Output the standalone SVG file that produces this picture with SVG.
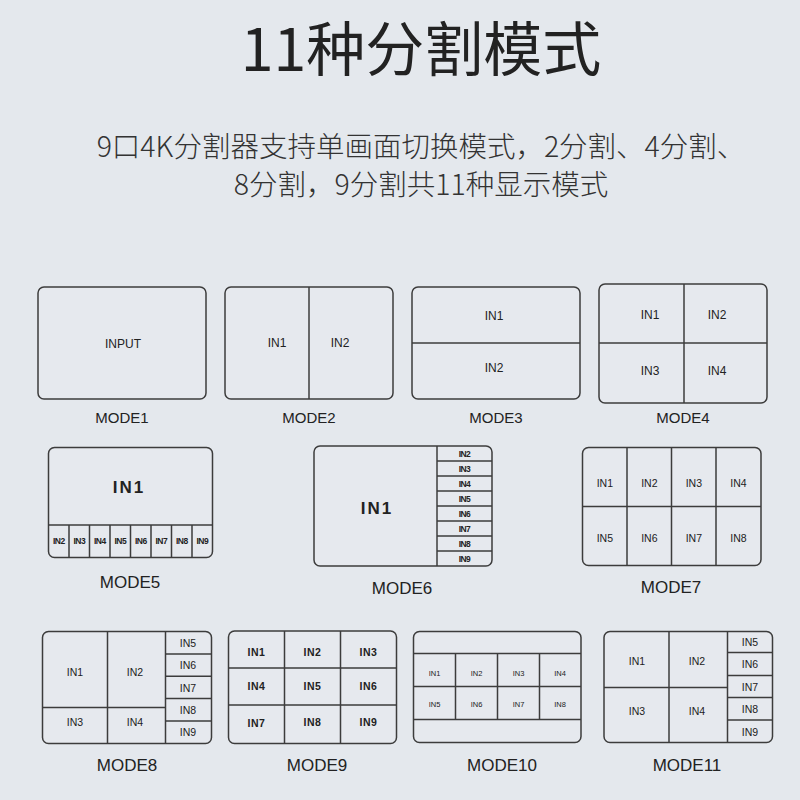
<svg xmlns="http://www.w3.org/2000/svg" width="800" height="800" viewBox="0 0 800 800">
<style>
.bg{fill:#e4e8ed}
.box{fill:#e6e9ee;stroke:#3c3c3c;stroke-width:1.5}
.ln{stroke:#3c3c3c;stroke-width:1.5;fill:none}
.t{font-family:"Liberation Sans",Arial,sans-serif;fill:#222;text-anchor:middle;dominant-baseline:central}
.m1{font-size:15px}
.m2{font-size:17px}
.s{font-size:12px}
.big{font-size:17px;font-weight:bold;letter-spacing:2px}
.xs{font-size:8.5px;font-weight:bold;letter-spacing:-0.6px}
.sm{font-size:10.5px}
.tiny{font-size:7.5px}
.cjk{font-family:"Noto Sans CJK SC",sans-serif;text-anchor:middle}
</style>
<rect class="bg" x="0" y="0" width="800" height="800"/>
<g id="title">
<text class="cjk" x="421" y="71" font-size="59" fill="#222">11种分割模式</text>
</g>
<g id="subtitle">
<text class="cjk" x="421" y="157" font-size="28.5" fill="#333" font-weight="300">9口4K分割器支持单画面切换模式，2分割、4分割、</text>
<text class="cjk" x="421" y="195" font-size="28.5" fill="#333" font-weight="300">8分割，9分割共11种显示模式</text>
</g>
<g id="mode1">
<rect class="box" x="38" y="287" width="168" height="112" rx="6"/>
<text class="t s" x="123" y="344">INPUT</text>
<text class="t m1" x="122" y="417">MODE1</text>
</g>
<g id="mode2">
<rect class="box" x="225" y="287" width="168" height="112" rx="6"/>
<line class="ln" x1="309" y1="287" x2="309" y2="399"/>
<text class="t s" x="277" y="343">IN1</text>
<text class="t s" x="340" y="343">IN2</text>
<text class="t m1" x="309" y="417">MODE2</text>
</g>
<g id="mode3">
<rect class="box" x="412" y="287" width="168" height="112" rx="6"/>
<line class="ln" x1="412" y1="343" x2="580" y2="343"/>
<text class="t s" x="494" y="316">IN1</text>
<text class="t s" x="494" y="368">IN2</text>
<text class="t m1" x="496" y="417">MODE3</text>
</g>
<g id="mode4">
<rect class="box" x="599" y="284" width="168" height="119" rx="6"/>
<line class="ln" x1="684" y1="284" x2="684" y2="403"/>
<line class="ln" x1="599" y1="343" x2="767" y2="343"/>
<text class="t s" x="650" y="315">IN1</text>
<text class="t s" x="717" y="315">IN2</text>
<text class="t s" x="650" y="371">IN3</text>
<text class="t s" x="717" y="371">IN4</text>
<text class="t m1" x="683" y="417">MODE4</text>
</g>
<g id="mode5">
<rect class="box" x="48.5" y="447.5" width="164" height="110" rx="6"/>
<line class="ln" x1="48.5" y1="525" x2="212.5" y2="525"/>
<path class="ln" d="M69 525V557.5M89.5 525V557.5M110 525V557.5M130.5 525V557.5M151 525V557.5M171.5 525V557.5M192 525V557.5"/>
<text class="t big" x="129" y="487">IN1</text>
<text class="t xs" x="58.8" y="541">IN2</text>
<text class="t xs" x="79.3" y="541">IN3</text>
<text class="t xs" x="99.8" y="541">IN4</text>
<text class="t xs" x="120.3" y="541">IN5</text>
<text class="t xs" x="140.8" y="541">IN6</text>
<text class="t xs" x="161.3" y="541">IN7</text>
<text class="t xs" x="181.8" y="541">IN8</text>
<text class="t xs" x="202.3" y="541">IN9</text>
<text class="t m2" x="130" y="582">MODE5</text>
</g>
<g id="mode6">
<rect class="box" x="314" y="446" width="178" height="120" rx="6"/>
<line class="ln" x1="437" y1="446" x2="437" y2="566"/>
<path class="ln" d="M437 461H492M437 476H492M437 491H492M437 506H492M437 521H492M437 536H492M437 551H492"/>
<text class="t big" x="377" y="508">IN1</text>
<text class="t xs" x="464.5" y="454">IN2</text>
<text class="t xs" x="464.5" y="469">IN3</text>
<text class="t xs" x="464.5" y="484">IN4</text>
<text class="t xs" x="464.5" y="499">IN5</text>
<text class="t xs" x="464.5" y="514">IN6</text>
<text class="t xs" x="464.5" y="529">IN7</text>
<text class="t xs" x="464.5" y="544">IN8</text>
<text class="t xs" x="464.5" y="559">IN9</text>
<text class="t m2" x="402" y="588">MODE6</text>
</g>
<g id="mode7">
<rect class="box" x="582.5" y="447.5" width="178.5" height="118" rx="6"/>
<path class="ln" d="M627 447.5V565.5M671.5 447.5V565.5M716 447.5V565.5M582.5 506.5H761"/>
<text class="t sm" x="604.8" y="483">IN1</text>
<text class="t sm" x="649.3" y="483">IN2</text>
<text class="t sm" x="693.8" y="483">IN3</text>
<text class="t sm" x="738.5" y="483">IN4</text>
<text class="t sm" x="604.8" y="538">IN5</text>
<text class="t sm" x="649.3" y="538">IN6</text>
<text class="t sm" x="693.8" y="538">IN7</text>
<text class="t sm" x="738.5" y="538">IN8</text>
<text class="t m2" x="671" y="587">MODE7</text>
</g>
<g id="mode8">
<rect class="box" x="42.5" y="631.5" width="169" height="112" rx="6"/>
<path class="ln" d="M107.5 631.5V743.5M165.5 631.5V743.5M42.5 707.5H165.5M165.5 654H211.5M165.5 676.3H211.5M165.5 698.6H211.5M165.5 721H211.5"/>
<text class="t sm" x="75" y="672">IN1</text>
<text class="t sm" x="135" y="672">IN2</text>
<text class="t sm" x="75" y="722">IN3</text>
<text class="t sm" x="135" y="722">IN4</text>
<text class="t sm" x="188" y="643">IN5</text>
<text class="t sm" x="188" y="665">IN6</text>
<text class="t sm" x="188" y="687.5">IN7</text>
<text class="t sm" x="188" y="710">IN8</text>
<text class="t sm" x="188" y="732">IN9</text>
<text class="t m2" x="127" y="765.5">MODE8</text>
</g>
<g id="mode9">
<rect class="box" x="228.5" y="631" width="168" height="112.5" rx="6"/>
<path class="ln" d="M284.5 631V743.5M340.5 631V743.5M228.5 668H396.5M228.5 705H396.5"/>
<text class="t sm" x="256.5" y="652" font-weight="bold" letter-spacing="0.5">IN1</text>
<text class="t sm" x="312.5" y="652" font-weight="bold" letter-spacing="0.5">IN2</text>
<text class="t sm" x="368.5" y="652" font-weight="bold" letter-spacing="0.5">IN3</text>
<text class="t sm" x="256.5" y="686" font-weight="bold" letter-spacing="0.5">IN4</text>
<text class="t sm" x="312.5" y="686" font-weight="bold" letter-spacing="0.5">IN5</text>
<text class="t sm" x="368.5" y="686" font-weight="bold" letter-spacing="0.5">IN6</text>
<text class="t sm" x="256.5" y="723" font-weight="bold" letter-spacing="0.5">IN7</text>
<text class="t sm" x="312.5" y="722" font-weight="bold" letter-spacing="0.5">IN8</text>
<text class="t sm" x="368.5" y="722" font-weight="bold" letter-spacing="0.5">IN9</text>
<text class="t m2" x="317" y="765">MODE9</text>
</g>
<g id="mode10">
<rect class="box" x="413.5" y="631.5" width="167.5" height="111" rx="6"/>
<path class="ln" d="M413.5 653.5H581M413.5 686.5H581M413.5 719.5H581M455.5 653.5V719.5M497.5 653.5V719.5M539.5 653.5V719.5"/>
<text class="t tiny" x="434.5" y="673">IN1</text>
<text class="t tiny" x="476.5" y="673">IN2</text>
<text class="t tiny" x="518.5" y="673">IN3</text>
<text class="t tiny" x="560" y="673">IN4</text>
<text class="t tiny" x="434.5" y="704">IN5</text>
<text class="t tiny" x="476.5" y="704">IN6</text>
<text class="t tiny" x="518.5" y="704">IN7</text>
<text class="t tiny" x="560" y="704">IN8</text>
<text class="t m2" x="502" y="765">MODE10</text>
</g>
<g id="mode11">
<rect class="box" x="604" y="631.5" width="168.5" height="111" rx="6"/>
<path class="ln" d="M669 631.5V742.5M727.5 631.5V742.5M604 687.5H727.5M727.5 652.5H772.5M727.5 675.5H772.5M727.5 697.5H772.5M727.5 720H772.5"/>
<text class="t sm" x="637" y="660.5">IN1</text>
<text class="t sm" x="697" y="660.5">IN2</text>
<text class="t sm" x="637" y="711">IN3</text>
<text class="t sm" x="697" y="711">IN4</text>
<text class="t sm" x="750" y="642">IN5</text>
<text class="t sm" x="750" y="664">IN6</text>
<text class="t sm" x="750" y="686.5">IN7</text>
<text class="t sm" x="750" y="709">IN8</text>
<text class="t sm" x="750" y="731.5">IN9</text>
<text class="t m2" x="687" y="765">MODE11</text>
</g>
</svg>
